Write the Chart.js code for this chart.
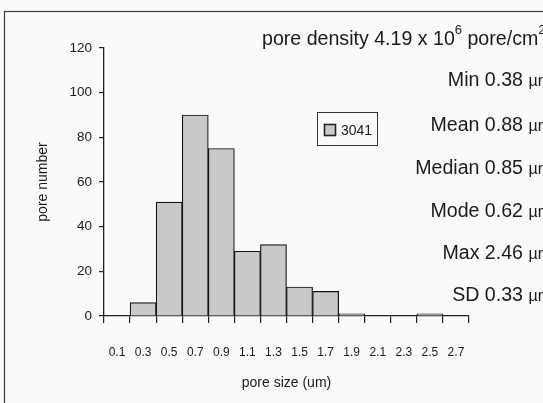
<!DOCTYPE html>
<html>
<head>
<meta charset="utf-8">
<script src="https://cdn.jsdelivr.net/npm/chart.js@4/dist/chart.umd.min.js"></script>
<style>
  html, body { margin: 0; padding: 0; background: #fafafa; }
  canvas { display: block; }
</style>
</head>
<body>
<canvas id="c" width="543" height="403"></canvas>
<script>
// Pore size distribution of sample 3041
const sizeBins = ['0.1', '0.3', '0.5', '0.7', '0.9', '1.1', '1.3', '1.5', '1.7', '1.9', '2.1', '2.3', '2.5', '2.7'];
const poreCounts = [0, 6, 51, 90, 75, 29, 32, 13, 11, 1, 0, 0, 1, 0];
const sampleName = '3041';
const densityMantissa = '4.19';
const densityExponent = '6';
const statNames = ['Min', 'Mean', 'Median', 'Mode', 'Max', 'SD'];
const statValues = ['0.38', '0.88', '0.85', '0.62', '2.46', '0.33'];

const FONT = "'Liberation Sans', Arial, Helvetica, sans-serif";
const INK = '#1b1b1b';

// page background and the outer frame line
const framePlugin = {
  id: 'frame',
  beforeDraw(chart) {
    const ctx = chart.ctx;
    ctx.save();
    ctx.fillStyle = '#fafafa';
    ctx.fillRect(0, 0, chart.width, chart.height);
    ctx.strokeStyle = '#3a3a3a';
    ctx.lineWidth = 1.2;
    ctx.strokeRect(4.5, 11.5, chart.width + 20, chart.height + 20);
    ctx.restore();
  }
};

// boxed legend entry for the dataset
const legendBoxPlugin = {
  id: 'legendBox',
  afterDraw(chart) {
    const ctx = chart.ctx;
    const ds = chart.data.datasets[0];
    ctx.save();
    ctx.strokeStyle = '#333';
    ctx.lineWidth = 1;
    ctx.strokeRect(317.5, 112.5, 60, 33);
    ctx.fillStyle = ds.backgroundColor;
    ctx.fillRect(324, 124, 12, 12);
    ctx.lineWidth = 1.6;
    ctx.strokeStyle = '#222';
    ctx.strokeRect(324.5, 124.5, 11, 11);
    ctx.fillStyle = INK;
    ctx.font = '14px ' + FONT;
    ctx.textBaseline = 'middle';
    ctx.textAlign = 'left';
    ctx.fillText(ds.label, 341, 131);
    ctx.restore();
  }
};

// density line and summary statistics on the right
const statsPlugin = {
  id: 'stats',
  afterDraw(chart) {
    const ctx = chart.ctx;
    ctx.save();
    ctx.fillStyle = INK;
    ctx.textBaseline = 'alphabetic';
    ctx.textAlign = 'left';
    const big = '19.6px ' + FONT;
    const sup = '13px ' + FONT;
    let x = 262, y = 45;
    const put = (txt, font, dy) => {
      ctx.font = font;
      ctx.fillText(txt, x, y + dy);
      x += ctx.measureText(txt).width;
    };
    put('pore density ' + densityMantissa + ' x 10', big, 0);
    put(densityExponent, sup, -11);
    put(' pore/cm', big, 0);
    put('2', sup, -11);

    const right = 551;
    const baselines = [86, 131, 174, 217, 259, 301];
    const unitFont = '16px ' + FONT;
    statNames.forEach((name, i) => {
      const main = name + ' ' + statValues[i] + ' ';
      ctx.font = unitFont;
      const wu = ctx.measureText('\u00b5m').width;
      ctx.font = big;
      const wm = ctx.measureText(main).width;
      const x0 = right - wu - wm;
      ctx.fillText(main, x0, baselines[i]);
      ctx.font = unitFont;
      ctx.fillText('\u00b5m', x0 + wm, baselines[i]);
    });
    ctx.restore();
  }
};

new Chart(document.getElementById('c'), {
  type: 'bar',
  data: {
    labels: sizeBins,
    datasets: [{
      label: sampleName,
      data: poreCounts,
      backgroundColor: '#c9c9c9',
      borderColor: '#111',
      borderWidth: 1.2,
      categoryPercentage: 1.0,
      barPercentage: 1.0
    }]
  },
  options: {
    responsive: false,
    animation: false,
    devicePixelRatio: 1,
    layout: { padding: { top: 48, right: 74, left: 0, bottom: 0 } },
    plugins: {
      legend: { display: false },
      tooltip: { enabled: false },
      title: { display: false }
    },
    scales: {
      x: {
        grid: { offset: true, drawOnChartArea: false, tickLength: 7, color: '#222', lineWidth: 1.2 },
        border: { color: '#222', width: 1.3 },
        ticks: { font: { size: 12, family: FONT }, color: INK, padding: 22, maxRotation: 0, autoSkip: false },
        title: { display: true, text: 'pore size (um)', color: INK, font: { size: 14, family: FONT }, padding: { top: 0, bottom: 11 } },
        afterFit(scale) { scale.height = 87; }
      },
      y: {
        min: 0,
        max: 120,
        grid: { drawOnChartArea: false, tickLength: 5, color: '#222', lineWidth: 1.2 },
        border: { color: '#222', width: 1.3 },
        ticks: { stepSize: 20, font: { size: 13.5, family: FONT }, color: INK, padding: 7 },
        title: { display: true, text: 'pore number', color: INK, font: { size: 14, family: FONT }, padding: { top: 35, bottom: 0 } },
        afterFit(scale) { scale.width = 104; }
      }
    }
  },
  plugins: [framePlugin, legendBoxPlugin, statsPlugin]
});
</script>
</body>
</html>
